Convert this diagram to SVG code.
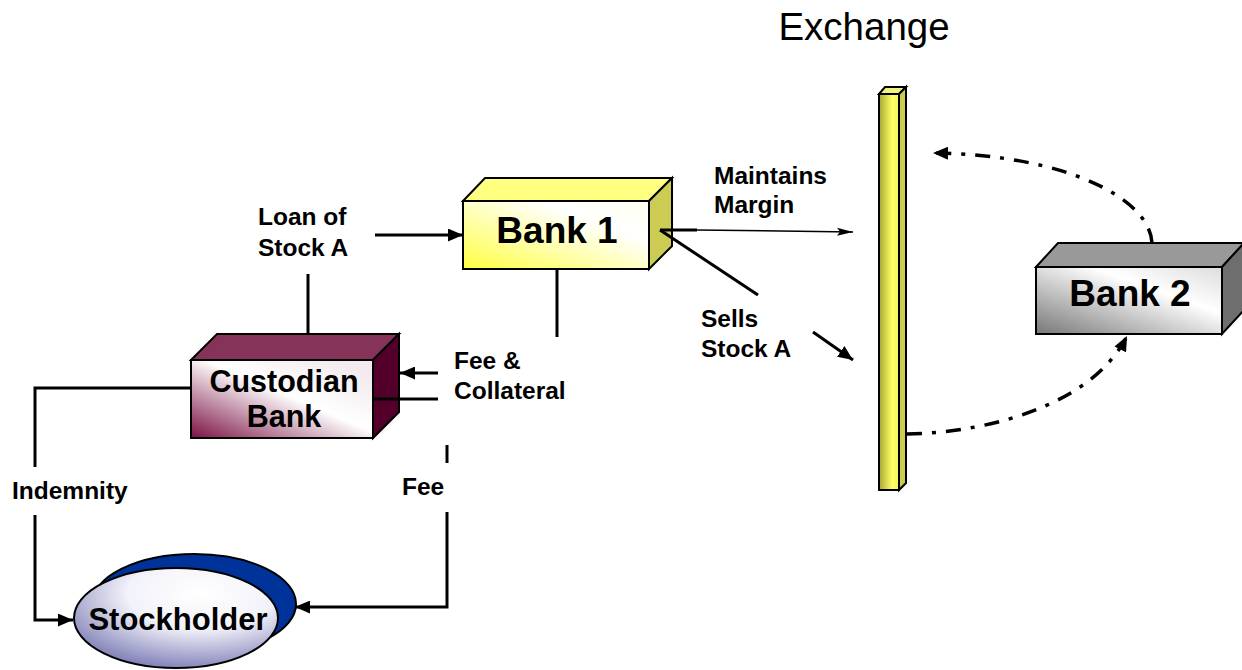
<svg xmlns="http://www.w3.org/2000/svg" width="1242" height="670" viewBox="0 0 1242 670">
  <style>
    .face { stroke: #000; stroke-width: 2; stroke-linejoin: miter; }
    .lbl { font-family: "Liberation Sans", Arial, sans-serif; font-weight: bold; font-size: 24.5px; fill: #000; }
    .big { font-family: "Liberation Sans", Arial, sans-serif; font-weight: bold; fill: #000; text-anchor: middle; }
    .line { fill: none; stroke: #000; stroke-width: 3; }
    .dashdot { fill: none; stroke: #000; stroke-width: 3.5; stroke-dasharray: 15 10 4 10; }
  </style>
  <defs>
    <marker id="arrow" markerUnits="userSpaceOnUse" markerWidth="15" markerHeight="13" refX="15" refY="6.5" orient="auto">
      <path d="M0,0 L15,6.5 L0,13 z" fill="#000"/>
    </marker>
    <marker id="arrowThin" markerUnits="userSpaceOnUse" markerWidth="16" markerHeight="10" refX="16" refY="5" orient="auto">
      <path d="M0,1 L16,5 L0,9 L3,5 z" fill="#000"/>
    </marker>
    <linearGradient id="gBank1" x1="0" y1="1" x2="1" y2="0">
      <stop offset="0" stop-color="#ffff40"/>
      <stop offset="0.7" stop-color="#ffffff"/>
      <stop offset="1" stop-color="#fffff0"/>
    </linearGradient>
    <linearGradient id="gCust" x1="0" y1="1" x2="0.9" y2="0.1">
      <stop offset="0" stop-color="#7a1042"/>
      <stop offset="0.6" stop-color="#ffffff"/>
      <stop offset="1" stop-color="#f2eaee"/>
    </linearGradient>
    <linearGradient id="gBank2" x1="0" y1="1" x2="1" y2="0">
      <stop offset="0" stop-color="#777777"/>
      <stop offset="0.65" stop-color="#ffffff"/>
      <stop offset="1" stop-color="#dddddd"/>
    </linearGradient>
    <linearGradient id="gBar" x1="0" y1="0" x2="1" y2="0">
      <stop offset="0" stop-color="#a6a636"/>
      <stop offset="0.65" stop-color="#ffff66"/>
      <stop offset="1" stop-color="#f4f460"/>
    </linearGradient>
    <radialGradient id="gHolder" cx="0.62" cy="0.25" r="0.8">
      <stop offset="0" stop-color="#ffffff"/>
      <stop offset="0.45" stop-color="#f2f2fa"/>
      <stop offset="1" stop-color="#7a7ab4"/>
    </radialGradient>
  </defs>

  <!-- title above the exchange bar -->
  <text x="864" y="40" font-family="'Liberation Sans', Arial, sans-serif" font-size="38.5" text-anchor="middle" fill="#000">Exchange</text>

  <!-- exchange bar -->
  <g id="exchange">
    <polygon class="face" points="879,94 885,87 906,87 899,94" fill="#f2f27a"/>
    <polygon class="face" points="899,94 906,87 906,483 899,490" fill="#cccc50"/>
    <rect class="face" x="879" y="94" width="20" height="396" fill="url(#gBar)"/>
  </g>

  <!-- Bank 1 -->
  <g id="bank1">
    <polygon class="face" points="463,201 485,178 672,178 649,201" fill="#ffff80"/>
    <polygon class="face" points="649,201 672,178 672,246 649,269" fill="#cccc55"/>
    <rect class="face" x="463" y="201" width="186" height="68" fill="url(#gBank1)"/>
    <text class="big" x="557" y="243" font-size="37">Bank 1</text>
  </g>

  <!-- Custodian Bank -->
  <g id="custodian">
    <polygon class="face" points="191,360 217,334 399,334 373,360" fill="#86335a"/>
    <polygon class="face" points="373,360 399,334 399,412 373,438" fill="#52002a"/>
    <rect class="face" x="191" y="360" width="182" height="78" fill="url(#gCust)"/>
    <text class="big" x="284" y="392" font-size="30.5">Custodian</text>
    <text class="big" x="284" y="427" font-size="30.5">Bank</text>
  </g>

  <!-- Bank 2 -->
  <g id="bank2">
    <polygon class="face" points="1036,267 1058,243 1244,243 1222,267" fill="#999999"/>
    <polygon class="face" points="1222,267 1244,243 1244,310 1222,334" fill="#6e6e6e"/>
    <rect class="face" x="1036" y="267" width="186" height="67" fill="url(#gBank2)"/>
    <text class="big" x="1130" y="306" font-size="37">Bank 2</text>
  </g>

  <!-- Stockholder -->
  <g id="stockholder">
    <ellipse class="face" cx="194" cy="604" rx="102" ry="50" fill="#003399"/>
    <ellipse class="face" cx="176" cy="618" rx="102" ry="50" fill="url(#gHolder)"/>
    <text class="big" x="178" y="630" font-size="31">Stockholder</text>
  </g>

  <!-- connectors -->
  <g id="connectors">
    <!-- loan of stock: custodian up to bank 1 -->
    <path class="line" d="M308,334 V274"/>
    <path class="line" d="M375,235 H463" marker-end="url(#arrow)"/>
    <!-- fee and collateral: bank 1 down to custodian -->
    <path class="line" d="M557,269 V337"/>
    <path class="line" d="M438,373 H400" marker-end="url(#arrow)"/>
    <path class="line" d="M438,399 H373"/>
    <!-- indemnity -->
    <path class="line" d="M191,388 H35 V467"/>
    <path class="line" d="M35,515 V620 H73" marker-end="url(#arrow)"/>
    <!-- fee -->
    <path class="line" d="M447,445 V463"/>
    <path class="line" d="M447,512 V607 H295" marker-end="url(#arrow)"/>
    <!-- maintains margin -->
    <path class="line" d="M660,230 H697"/>
    <path fill="none" stroke="#000" stroke-width="1.5" d="M697,230 L853,232" marker-end="url(#arrowThin)"/>
    <!-- sells stock A -->
    <path class="line" stroke-width="3.5" d="M660,230 L758,295"/>
    <path class="line" stroke-width="3.5" d="M813,332 L853,360" marker-end="url(#arrow)"/>
    <!-- exchange and bank 2 -->
    <path class="dashdot" d="M907,434 C1000,432 1095,400 1127,336" marker-end="url(#arrow)"/>
    <path class="dashdot" d="M1152,243 C1150,200 1070,155 933,153" marker-end="url(#arrow)"/>
  </g>

  <!-- labels -->
  <g id="labels">
    <text class="lbl" x="258" y="225">Loan of</text>
    <text class="lbl" x="258" y="256">Stock A</text>
    <text class="lbl" x="454" y="369">Fee &amp;</text>
    <text class="lbl" x="454" y="399">Collateral</text>
    <text class="lbl" x="714" y="184">Maintains</text>
    <text class="lbl" x="714" y="213">Margin</text>
    <text class="lbl" x="701" y="327">Sells</text>
    <text class="lbl" x="701" y="357">Stock A</text>
    <text class="lbl" x="12" y="499">Indemnity</text>
    <text class="lbl" x="402" y="495">Fee</text>
  </g>
</svg>
